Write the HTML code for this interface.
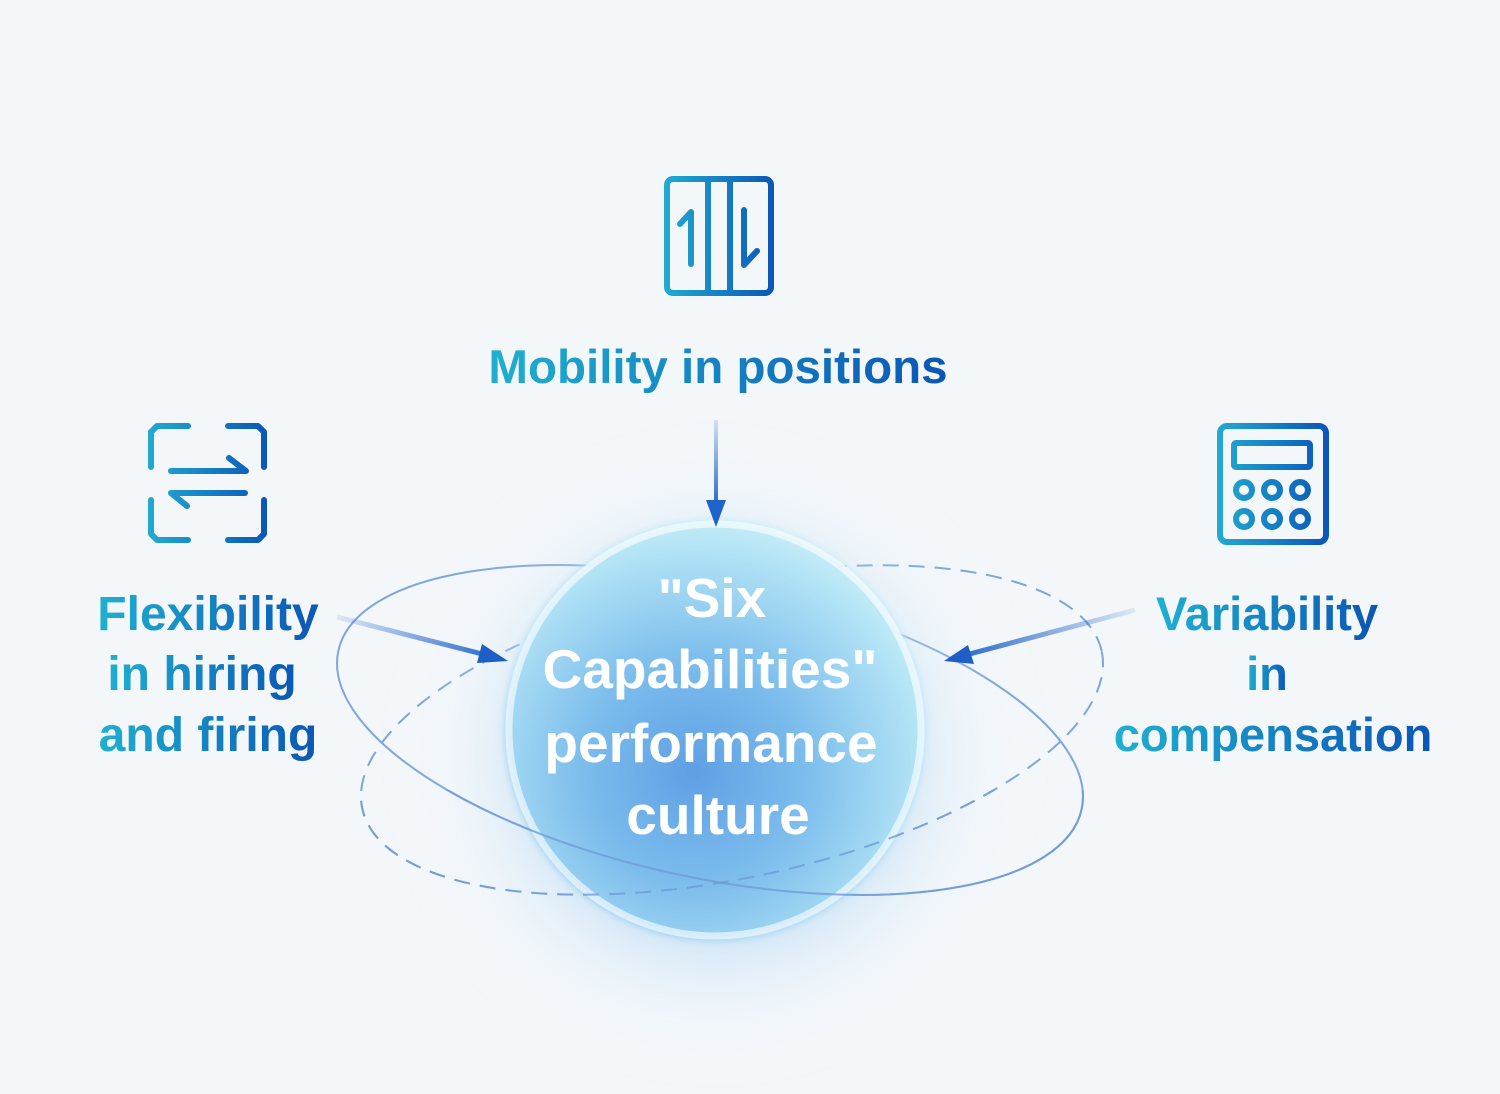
<!DOCTYPE html>
<html><head><meta charset="utf-8"><style>
html,body{margin:0;padding:0;width:1500px;height:1094px;overflow:hidden;background:#f3f7fa;}
svg{display:block}
</style></head><body>
<svg width="1500" height="1094" viewBox="0 0 1500 1094" xmlns="http://www.w3.org/2000/svg">
<defs>
<linearGradient id="ig1" x1="665" y1="0" x2="775" y2="0" gradientUnits="userSpaceOnUse"><stop offset="0" stop-color="#22aad0"/><stop offset="1" stop-color="#0a55b8"/></linearGradient>
<linearGradient id="ig2" x1="148" y1="0" x2="268" y2="0" gradientUnits="userSpaceOnUse"><stop offset="0" stop-color="#22aad0"/><stop offset="1" stop-color="#0a55b8"/></linearGradient>
<linearGradient id="ig3" x1="1218" y1="0" x2="1328" y2="0" gradientUnits="userSpaceOnUse"><stop offset="0" stop-color="#22aad0"/><stop offset="1" stop-color="#0a55b8"/></linearGradient>
<linearGradient id="tg" x1="0" y1="0" x2="1" y2="0"><stop offset="0" stop-color="#1fb0d0"/><stop offset="1" stop-color="#0b56b5"/></linearGradient>
<radialGradient id="halo" cx="0.5" cy="0.5" r="0.5"><stop offset="0.5" stop-color="#a9d2f2" stop-opacity="0.85"/><stop offset="1" stop-color="#e8f2fa" stop-opacity="0"/></radialGradient>
<radialGradient id="core" cx="0.45" cy="0.6" r="0.65"><stop offset="0" stop-color="#5f9fe4"/><stop offset="0.4" stop-color="#7bbcec"/><stop offset="0.85" stop-color="#b6e6f6"/><stop offset="1" stop-color="#d4f0f9"/></radialGradient>
<linearGradient id="a1" x1="0" y1="420" x2="0" y2="510" gradientUnits="userSpaceOnUse"><stop offset="0" stop-color="#1e63c8" stop-opacity="0.15"/><stop offset="1" stop-color="#1e63c8"/></linearGradient>
<linearGradient id="a2" x1="337" y1="617" x2="505" y2="660" gradientUnits="userSpaceOnUse"><stop offset="0" stop-color="#1e63c8" stop-opacity="0.1"/><stop offset="1" stop-color="#1e63c8"/></linearGradient>
<linearGradient id="a3" x1="1135" y1="610" x2="948" y2="660" gradientUnits="userSpaceOnUse"><stop offset="0" stop-color="#1e63c8" stop-opacity="0.1"/><stop offset="1" stop-color="#1e63c8"/></linearGradient>
<filter id="blur" x="-50%" y="-50%" width="200%" height="200%"><feGaussianBlur stdDeviation="32"/></filter>
<filter id="soft" x="-20%" y="-20%" width="140%" height="140%"><feGaussianBlur stdDeviation="4"/></filter>
<clipPath id="bot"><rect x="0" y="790" width="1500" height="300"/></clipPath>
</defs>

<g fill="none" stroke="#7ea6dc" stroke-width="2">
<ellipse cx="710" cy="730" rx="380" ry="148" transform="rotate(12 710 730)"/>
<ellipse cx="732" cy="730" rx="378" ry="148" transform="rotate(-12 732 730)" stroke-dasharray="16 10"/>
</g>

<circle cx="715" cy="755" r="280" fill="url(#halo)" filter="url(#blur)"/>
<circle cx="715" cy="730" r="210" fill="url(#core)" filter="url(#soft)"/>
<circle cx="715" cy="730" r="206" fill="none" stroke="#ffffff" stroke-opacity="0.6" stroke-width="7"/>

<g fill="none" stroke="#6f9bd8" stroke-width="2" stroke-opacity="0.8" clip-path="url(#bot)">
<ellipse cx="710" cy="730" rx="380" ry="148" transform="rotate(12 710 730)"/>
<ellipse cx="732" cy="730" rx="378" ry="148" transform="rotate(-12 732 730)" stroke-dasharray="16 10"/>
</g>

<rect x="714" y="420" width="4" height="88" fill="url(#a1)"/>
<polygon points="706,500 726,500 716,527" fill="#1e63c8"/>
<line x1="337" y1="617" x2="490" y2="656" stroke="url(#a2)" stroke-width="5"/>
<polygon points="508,661 482,644 477,663" fill="#1e5fc6"/>
<line x1="1135" y1="610" x2="962" y2="656" stroke="url(#a3)" stroke-width="5"/>
<polygon points="944,661 968,645 974,664" fill="#1e5fc6"/>

<g fill="none" stroke="url(#ig1)" stroke-width="6" stroke-linecap="round" stroke-linejoin="round">
<rect x="667" y="179" width="104" height="114" rx="6"/>
<line x1="708" y1="182" x2="708" y2="290"/><line x1="730" y1="182" x2="730" y2="290"/>
<polyline points="680,224 691,212 691,264"/>
<polyline points="744,210 744,265 757,251"/>
</g>
<g fill="none" stroke="url(#ig2)" stroke-width="6" stroke-linecap="round" stroke-linejoin="round">
<polyline points="151,467 151,432 157,426 188,426"/>
<polyline points="228,426 258,426 264,432 264,467"/>
<polyline points="151,500 151,534 157,540 188,540"/>
<polyline points="228,540 258,540 264,534 264,500"/>
<polyline points="171,471 246,471 229,458"/>
<polyline points="245,493 171,493 187,506"/>
</g>
<g fill="none" stroke="url(#ig3)" stroke-width="6" stroke-linecap="round" stroke-linejoin="round">
<rect x="1220" y="426" width="106" height="116" rx="7"/>
<rect x="1234" y="443" width="76" height="24" rx="2"/>
<circle cx="1244" cy="490" r="8"/><circle cx="1272" cy="490" r="8"/><circle cx="1300" cy="490" r="8"/>
<circle cx="1244" cy="519" r="8"/><circle cx="1272" cy="519" r="8"/><circle cx="1300" cy="519" r="8"/>
</g>

<g font-family="Liberation Sans, DejaVu Sans, sans-serif" font-weight="bold" fill="url(#tg)" text-anchor="middle">
<text x="718" y="383" font-size="47.5">Mobility in positions</text>
<text x="208" y="630" font-size="48">Flexibility</text>
<text x="202" y="690" font-size="48">in hiring</text>
<text x="208" y="751" font-size="48">and firing</text>
<text x="1267" y="630" font-size="47">Variability</text>
<text x="1267" y="690" font-size="47">in</text>
<text x="1273" y="751" font-size="47">compensation</text>
</g>
<g font-family="Liberation Sans, DejaVu Sans, sans-serif" font-weight="bold" fill="#ffffff" text-anchor="middle" font-size="55">
<text x="712" y="617">"Six</text>
<text x="710" y="688">Capabilities"</text>
<text x="711" y="762">performance</text>
<text x="718" y="834">culture</text>
</g>
</svg>
</body></html>
